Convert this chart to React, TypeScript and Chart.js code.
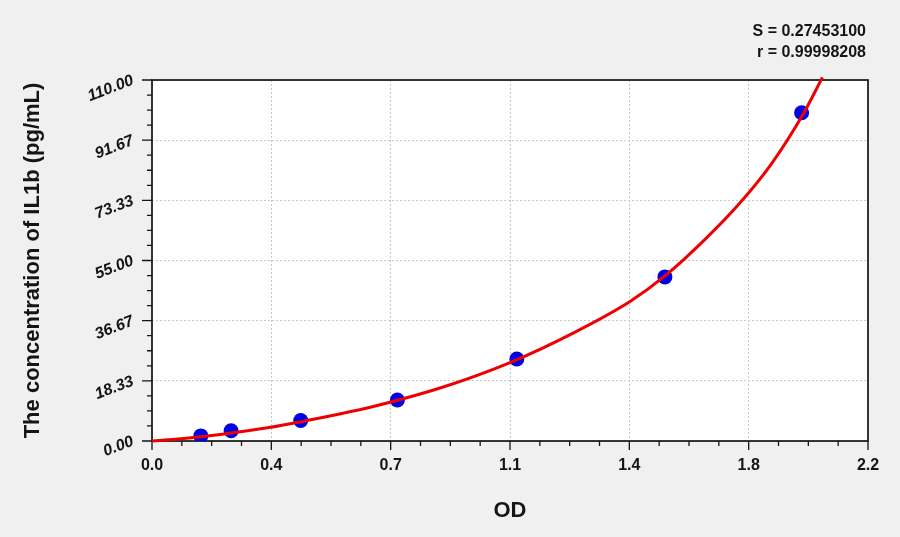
import React, { useEffect, useRef } from "react";
import { Chart, registerables } from "chart.js";

Chart.register(...registerables);

// fitted curve
const curveOD = [0, 0.09, 0.21, 0.36, 0.58, 0.68, 0.89, 1.1, 1.3, 1.47, 1.58, 1.7, 1.8, 1.9, 2.0, 2.06];
const curveConc = [0, 0.7, 2.0, 4.1, 8.3, 10.5, 16.3, 23.9, 33.2, 42.6, 50.6, 61.5, 71.8, 84.0, 99.5, 110.8];

// standards
const stdOD = [0.15, 0.243, 0.457, 0.754, 1.121, 1.576, 1.996];
const stdConc = [1.56, 3.12, 6.25, 12.5, 25, 50, 100];

const xTickLabels = ["0.0", "0.4", "0.7", "1.1", "1.4", "1.8", "2.2"];
const yTickLabels = ["0.00", "18.33", "36.67", "55.00", "73.33", "91.67", "110.00"];
const fitStats = ["S = 0.27453100", "r = 0.99998208"];

const FONT = "'Liberation Sans', Arial, sans-serif";
const INK = "#151515";

const framePlugin = {
  id: "frame",
  beforeDraw(chart: any) {
    const { ctx, chartArea: a } = chart;
    ctx.save();
    ctx.fillStyle = "#ffffff";
    ctx.fillRect(a.left, a.top, a.right - a.left, a.bottom - a.top);
    ctx.restore();
  },
  beforeDatasetsDraw(chart: any) {
    const { ctx, chartArea: a, scales } = chart;
    ctx.save();
    ctx.strokeStyle = INK;
    ctx.lineWidth = 1.7;
    ctx.strokeRect(a.left, a.top, a.right - a.left, a.bottom - a.top);

    ctx.lineWidth = 1.3;
    ctx.beginPath();
    const xs = scales.x;
    xs.ticks.forEach((t: any, i: number) => {
      const p = xs.getPixelForValue(t.value);
      ctx.moveTo(p, a.bottom);
      ctx.lineTo(p, a.bottom + 9);
      const next = xs.ticks[i + 1];
      if (next) {
        for (let k = 1; k < 4; k++) {
          const m = xs.getPixelForValue(t.value + ((next.value - t.value) * k) / 4);
          ctx.moveTo(m, a.bottom);
          ctx.lineTo(m, a.bottom + 5);
        }
      }
    });
    const ys = scales.y;
    ys.ticks.forEach((t: any, i: number) => {
      const p = ys.getPixelForValue(t.value);
      ctx.moveTo(a.left, p);
      ctx.lineTo(a.left - 10, p);
      const next = ys.ticks[i + 1];
      if (next) {
        for (let k = 1; k < 4; k++) {
          const m = ys.getPixelForValue(t.value + ((next.value - t.value) * k) / 4);
          ctx.moveTo(a.left, m);
          ctx.lineTo(a.left - 5, m);
        }
      }
    });
    ctx.stroke();
    ctx.restore();
  },
  afterDraw(chart: any) {
    const { ctx } = chart;
    ctx.save();
    ctx.fillStyle = INK;
    ctx.font = `bold 16px ${FONT}`;
    ctx.textAlign = "right";
    ctx.textBaseline = "alphabetic";
    ctx.fillText(fitStats[0], 866, 36);
    ctx.fillText(fitStats[1], 866, 56.5);
    ctx.restore();
  },
};

const App: React.FC = () => {
  const canvasRef = useRef<HTMLCanvasElement>(null);

  useEffect(() => {
    document.body.style.margin = "0";
    if (!canvasRef.current) return;
    const ctx = canvasRef.current.getContext("2d")!;

    const chart = new Chart(ctx, {
      type: "scatter",
      data: {
        datasets: [
          {
            label: "fit",
            data: curveOD.map((x, i) => ({ x, y: curveConc[i] })),
            showLine: true,
            borderColor: "#ee0000",
            borderWidth: 3,
            pointRadius: 0,
            cubicInterpolationMode: "monotone",
            clip: 8,
          },
          {
            label: "standards",
            data: stdOD.map((x, i) => ({ x, y: stdConc[i] })),
            backgroundColor: "#0000e6",
            borderWidth: 0,
            pointRadius: 7.5,
          },
        ],
      },
      options: {
        animation: false,
        responsive: false,
        layout: { padding: { top: 80, right: 32, left: 0, bottom: 0 } },
        plugins: {
          legend: { display: false },
          tooltip: { enabled: false },
        },
        scales: {
          x: {
            type: "linear",
            min: 0,
            max: 2.2,
            afterFit: (s: any) => {
              s.height = 96;
            },
            ticks: {
              stepSize: 2.2 / 6,
              callback: (_v: any, i: number) => xTickLabels[i] ?? "",
              font: { family: FONT, size: 16, weight: "bold" },
              color: INK,
              padding: 15,
              maxRotation: 0,
            },
            grid: { color: "#c8c8c8", drawTicks: false, lineWidth: 1 },
            border: { display: false, dash: [2, 2] },
            title: {
              display: true,
              text: "OD",
              color: INK,
              font: { family: FONT, size: 22, weight: "bold" },
              padding: { top: 0, bottom: 13 },
            },
          },
          y: {
            type: "linear",
            min: 0,
            max: 110,
            afterFit: (s: any) => {
              s.width = 152;
            },
            ticks: {
              stepSize: 110 / 6,
              callback: (_v: any, i: number) => yTickLabels[i] ?? "",
              font: { family: FONT, size: 16, weight: "bold", style: "italic" },
              color: INK,
              padding: 19,
              minRotation: 21,
              maxRotation: 21,
            },
            grid: { color: "#c8c8c8", drawTicks: false, lineWidth: 1 },
            border: { display: false, dash: [2, 2] },
            title: {
              display: true,
              text: "The concentration of IL1b (pg/mL)",
              color: INK,
              font: { family: FONT, size: 22, weight: "bold" },
              padding: { top: 20, bottom: 0 },
            },
          },
        },
      },
      plugins: [framePlugin],
    } as any);

    return () => {
      chart.destroy();
    };
  }, []);

  return (
    <div style={{ width: 900, height: 537, background: "#f0f0f0" }}>
      <canvas ref={canvasRef} width={900} height={537} style={{ width: 900, height: 537 }}></canvas>
    </div>
  );
};

export default App;
